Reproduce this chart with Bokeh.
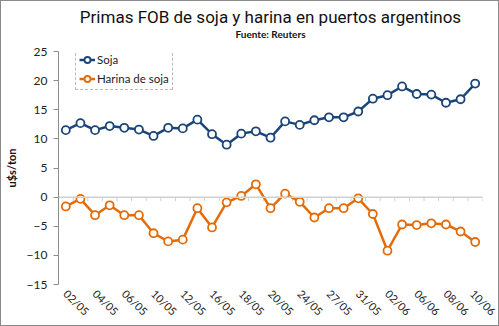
import math
from bokeh.plotting import figure
from bokeh.layouts import column
from bokeh.models import (Range1d, FixedTicker, LinearAxis, Span, Legend, LegendItem, Label)
from bokeh.embed import file_html
from bokeh.resources import INLINE

dates = ["02/05", "03/05", "04/05", "05/05", "06/05", "09/05", "10/05", "11/05", "12/05", "13/05",
         "16/05", "17/05", "18/05", "19/05", "20/05", "23/05", "24/05", "26/05", "27/05", "30/05",
         "31/05", "01/06", "02/06", "03/06", "06/06", "07/06", "08/06", "09/06", "10/06"]
soja = [11.5, 12.7, 11.5, 12.2, 11.9, 11.6, 10.5, 11.9, 11.8, 13.3,
        10.8, 9.0, 10.9, 11.3, 10.2, 13.0, 12.4, 13.2, 13.7, 13.7,
        14.7, 16.9, 17.5, 19.0, 17.7, 17.6, 16.2, 16.8, 19.5]
harina = [-1.6, -0.3, -3.1, -1.4, -3.1, -3.1, -6.2, -7.6, -7.3, -1.9,
          -5.2, -0.9, 0.2, 2.2, -1.9, 0.6, -0.8, -3.5, -1.9, -1.9,
          -0.2, -2.9, -9.2, -4.7, -4.8, -4.5, -4.7, -5.9, -7.7]
y_ticks = [-15, -10, -5, 0, 5, 10, 15, 20, 25]
title_text = "Primas FOB de soja y harina en puertos argentinos"
subtitle_text = "Fuente: Reuters"

idx = list(range(len(dates)))
BLUE = "#1b4478"
ORANGE = "#e36c09"
FONT = "Lato"
TFONT = "Roboto"

W = 497
TOP_H = 39
MAIN_H = 285
BORDER_TOP = 11
BORDER_BOTTOM = 39
FRAME_H = MAIN_H - BORDER_TOP - BORDER_BOTTOM

# ---- title strip ----
t = figure(width=W, height=TOP_H, output_backend="svg", toolbar_location=None,
           x_range=Range1d(0, W), y_range=Range1d(TOP_H, 0),
           min_border=0, x_axis_location=None, y_axis_location=None)
t.xgrid.visible = False
t.ygrid.visible = False
t.outline_line_color = None
t.add_layout(Label(x=W / 2, y=15, text=title_text, text_align="center", text_baseline="middle",
                   text_font=TFONT, text_font_size="17px", text_color="#111111"))
t.add_layout(Label(x=W / 2, y=32, text=subtitle_text, text_align="center", text_baseline="middle",
                   text_font=FONT, text_font_size="10px", text_font_style="bold", text_color="#111111"))

# ---- main chart ----
p = figure(width=W, height=MAIN_H, output_backend="svg", toolbar_location=None,
           x_range=Range1d(-0.5, len(dates) - 0.5), y_range=Range1d(min(y_ticks), max(y_ticks)),
           min_border_left=51, min_border_right=16, min_border_top=BORDER_TOP,
           min_border_bottom=BORDER_BOTTOM,
           x_axis_location=None, y_axis_location=None)
p.outline_line_color = None
p.xgrid.visible = False
p.ygrid.visible = False

yax = LinearAxis(ticker=FixedTicker(ticks=y_ticks), axis_label="u$s/ton")
yax.axis_line_color = "#8c8c8c"
yax.major_tick_line_color = "#8c8c8c"
yax.major_tick_out = 5
yax.major_tick_in = 0
yax.minor_tick_line_color = None
yax.major_label_text_font = FONT
yax.major_label_text_font_size = "12px"
yax.major_label_text_color = "#222222"
yax.major_label_standoff = 6
yax.axis_label_text_font = FONT
yax.axis_label_text_font_size = "11px"
yax.axis_label_text_font_style = "bold"
yax.axis_label_text_color = "#111111"
yax.axis_label_standoff = 6
p.add_layout(yax, "left")

xax = LinearAxis(ticker=FixedTicker(ticks=idx[::2]),
                 major_label_overrides={i: dates[i] for i in idx})
xax.axis_line_color = None
xax.major_tick_line_color = None
xax.major_tick_out = 0
xax.major_tick_in = 0
xax.minor_tick_line_color = None
xax.minor_tick_out = 0
xax.minor_tick_in = 0
xax.major_label_orientation = -math.pi / 4
xax.major_label_text_font = FONT
xax.major_label_text_font_size = "11px"
xax.major_label_text_color = "#222222"
xax.major_label_standoff = 7
p.add_layout(xax, "below")

p.add_layout(Span(location=0, dimension="width", line_color="#d0d0d0", line_width=1.5))
bounds = [i - 0.5 for i in idx] + [idx[-1] + 0.5]
p.segment(x0=bounds, y0=[0] * len(bounds), x1=bounds, y1=[-0.7] * len(bounds),
          line_color="#d0d0d0", line_width=1)

r1l = p.line(idx, soja, line_color=BLUE, line_width=2.5)
r1s = p.scatter(idx, soja, size=8, marker="circle", fill_color="white", line_color=BLUE, line_width=1.8)
r2l = p.line(idx, harina, line_color=ORANGE, line_width=2.5)
r2s = p.scatter(idx, harina, size=8, marker="circle", fill_color="white", line_color=ORANGE, line_width=1.8)

LEG_H = 40
legend = Legend(items=[LegendItem(label="Soja", renderers=[r1l, r1s]),
                       LegendItem(label="Harina de soja", renderers=[r2l, r2s])],
                location=(17, FRAME_H - LEG_H - 1))
legend.border_line_color = "#777777"
legend.border_line_dash = "2 2"
legend.border_line_width = 1
legend.background_fill_color = "white"
legend.background_fill_alpha = 1
legend.padding = 3
legend.spacing = 4
legend.margin = 0
legend.glyph_width = 16
legend.glyph_height = 15
legend.label_height = 15
legend.label_standoff = 2
legend.label_text_font = FONT
legend.label_text_font_size = "11.5px"
legend.label_text_color = "#222222"
p.add_layout(legend, "center")

layout = column(t, p, spacing=0, styles={"border": "1px solid #8a8a8a"})

open("out.html", "w").write(file_html(layout, INLINE))
